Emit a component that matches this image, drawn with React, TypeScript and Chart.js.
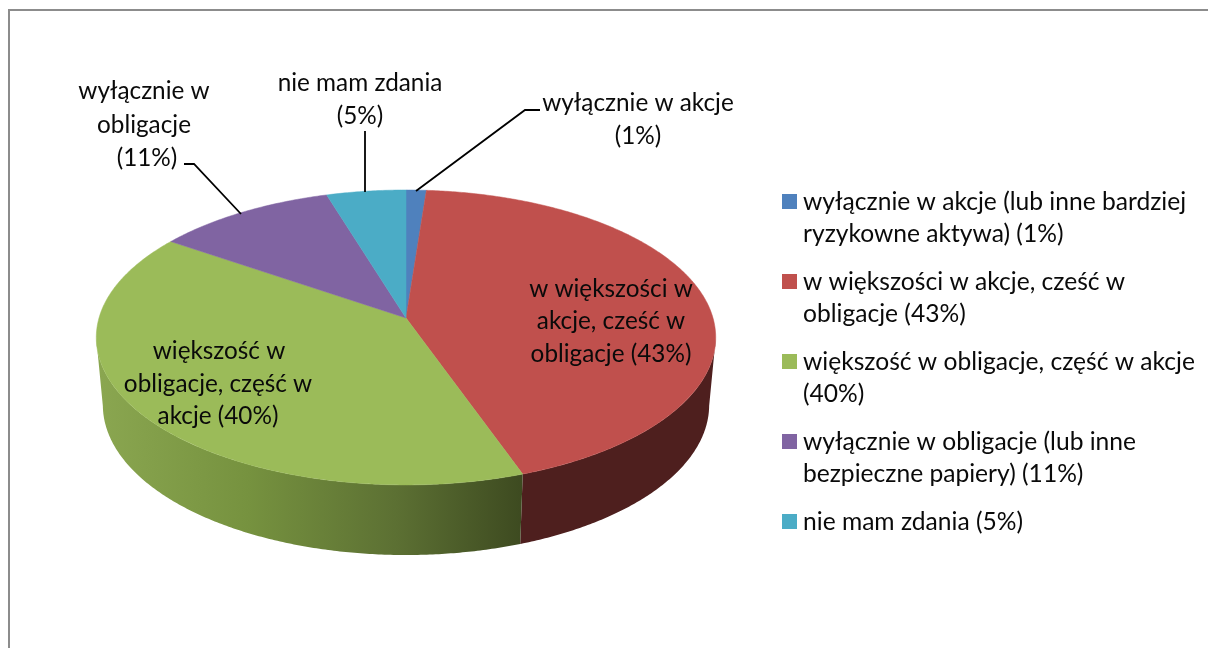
import React, { useEffect, useRef } from "react";
import { Chart, registerables } from "chart.js";

Chart.register(...registerables);

const categories = [
  "wyłącznie w akcje (lub inne bardziej ryzykowne aktywa)",
  "w większości w akcje, część w obligacje",
  "większość w obligacje, część w akcje",
  "wyłącznie w obligacje (lub inne bezpieczne papiery)",
  "nie mam zdania",
];
const shares = [1.2, 43.4, 40, 10.7, 4.7];
const colors = ["#4F81BD", "#C0504D", "#9BBB59", "#8064A2", "#4BACC6"];
const legendLines = [
  ["wyłącznie w akcje (lub inne bardziej", "ryzykowne aktywa) (1%)"],
  ["w większości w akcje, cześć w", "obligacje (43%)"],
  ["większość w obligacje, część w akcje", "(40%)"],
  ["wyłącznie w obligacje (lub inne", "bezpieczne papiery) (11%)"],
  ["nie mam zdania (5%)"],
];
const dataLabelLines = [
  ["wyłącznie w akcje", "(1%)"],
  ["w większości w", "akcje, cześć w", "obligacje (43%)"],
  ["większość w", "obligacje, część w", "akcje (40%)"],
  ["wyłącznie w", "obligacje", "(11%)"],
  ["nie mam zdania", "(5%)"],
];

const LABEL_FONT = '24.3px Lato, "Noto Sans", sans-serif';
const LEGEND_FONT = '24.6px Lato, "Noto Sans", sans-serif';
const TEXT = "#0a0a0a";

const project = (deg: number, cx: number, cy: number, a: number, b: number, k: number) => {
  const t = (deg * Math.PI) / 180;
  const u = Math.sin(t);
  const v = -Math.cos(t);
  const w = 1 - k * v;
  return [cx + (a * u) / w, cy + (b * v) / w];
};
const topPt = (deg: number) => project(deg, 406, 318, 307, 144.9, 0.132);
const botPt = (deg: number) => project(deg, 406, 385.2, 300.5, 147.4, 0.132);

const labelPlacement = [
  { x: [638, 638], y: [103, 136] },
  { x: [611, 611, 611], y: [289, 321, 354] },
  { x: [219, 218, 218], y: [351, 384, 416] },
  { x: [144, 144, 147], y: [91, 125, 158] },
  { x: [360, 360], y: [83, 116] },
];
const leaderPaths = [
  [[540, 110], [525, 110], [416, 191]],
  [],
  [],
  [[184, 164], [194, 164], [241, 214]],
  [[365, 131], [365, 192]],
];
const legendSwatchX = 782;
const legendTextX = 803;
const legendTops = [194, 274, 354, 434, 514];

const pie3d = {
  id: "pie3d",
  beforeDatasetsDraw(chart: any) {
    const ctx = chart.ctx as CanvasRenderingContext2D;
    const arcs = chart.getDatasetMeta(0).data as any[];
    const range = arcs.map((arc) => ({
      from: ((arc.startAngle + Math.PI / 2) * 180) / Math.PI,
      to: ((arc.endAngle + Math.PI / 2) * 180) / Math.PI,
      color: arc.options.backgroundColor,
    }));

    ctx.save();
    ctx.fillStyle = "#ffffff";
    ctx.fillRect(0, 0, chart.width, chart.height);
    ctx.strokeStyle = "#8c8c8c";
    ctx.lineWidth = 2;
    ctx.beginPath();
    ctx.moveTo(1212, 10);
    ctx.lineTo(9, 10);
    ctx.lineTo(9, 652);
    ctx.stroke();

    const green = ctx.createLinearGradient(100, 0, 523, 0);
    green.addColorStop(0, "#8AA650");
    green.addColorStop(0.35, "#76923F");
    green.addColorStop(0.7, "#5C7033");
    green.addColorStop(1, "#3D4A20");
    const sideFill: any[] = ["#000", "#4E1F1E", green, "#5e4a78", "#36808f"];

    range.forEach((s, i) => {
      const from = Math.max(s.from, 98);
      const to = Math.min(s.to, 262);
      if (to <= from) return;
      ctx.beginPath();
      for (let d = from; d < to; d += 0.5) {
        const p = botPt(d);
        if (d === from) ctx.moveTo(p[0], p[1]);
        else ctx.lineTo(p[0], p[1]);
      }
      const be = botPt(to);
      ctx.lineTo(be[0], be[1]);
      for (let d = to; d > from; d -= 0.5) {
        const p = topPt(d);
        ctx.lineTo(p[0], p[1]);
      }
      const te = topPt(from);
      ctx.lineTo(te[0], te[1]);
      ctx.closePath();
      ctx.fillStyle = sideFill[i];
      ctx.fill();
    });

    range.forEach((s) => {
      ctx.beginPath();
      ctx.moveTo(406, 318);
      for (let d = s.from; d < s.to; d += 0.5) {
        const p = topPt(d);
        ctx.lineTo(p[0], p[1]);
      }
      const e = topPt(s.to);
      ctx.lineTo(e[0], e[1]);
      ctx.closePath();
      ctx.fillStyle = s.color;
      ctx.strokeStyle = s.color;
      ctx.lineWidth = 0.5;
      ctx.fill();
      ctx.stroke();
    });

    ctx.strokeStyle = "#000000";
    ctx.lineWidth = 1.8;
    leaderPaths.forEach((path) => {
      if (!path.length) return;
      ctx.beginPath();
      path.forEach((p, i) => (i ? ctx.lineTo(p[0], p[1]) : ctx.moveTo(p[0], p[1])));
      ctx.stroke();
    });

    ctx.font = LABEL_FONT;
    ctx.fillStyle = TEXT;
    ctx.textBaseline = "middle";
    ctx.textAlign = "center";
    dataLabelLines.forEach((lines, i) => {
      lines.forEach((line, j) => {
        ctx.fillText(line, labelPlacement[i].x[j], labelPlacement[i].y[j]);
      });
    });

    ctx.font = LEGEND_FONT;
    ctx.textAlign = "left";
    legendLines.forEach((lines, i) => {
      ctx.fillStyle = colors[i];
      ctx.fillRect(legendSwatchX, legendTops[i], 15, 15);
      ctx.fillStyle = TEXT;
      lines.forEach((line, j) => {
        ctx.fillText(line, legendTextX, legendTops[i] + 8 + j * 32);
      });
    });
    ctx.restore();
    return false;
  },
};

export default function App() {
  const ref = useRef<HTMLCanvasElement>(null);
  useEffect(() => {
    const chart = new Chart(ref.current as HTMLCanvasElement, {
      type: "pie",
      data: {
        labels: categories,
        datasets: [{ data: shares, backgroundColor: colors, borderWidth: 0 }],
      },
      options: {
        responsive: false,
        animation: false,
        plugins: { legend: { display: false }, tooltip: { enabled: false } },
      },
      plugins: [pie3d],
    } as any);
    return () => chart.destroy();
  }, []);
  return (
    <canvas
      ref={ref}
      width={1208}
      height={648}
      style={{ position: "fixed", left: 0, top: 0, display: "block", width: 1208, height: 648 }}
    />
  );
}
